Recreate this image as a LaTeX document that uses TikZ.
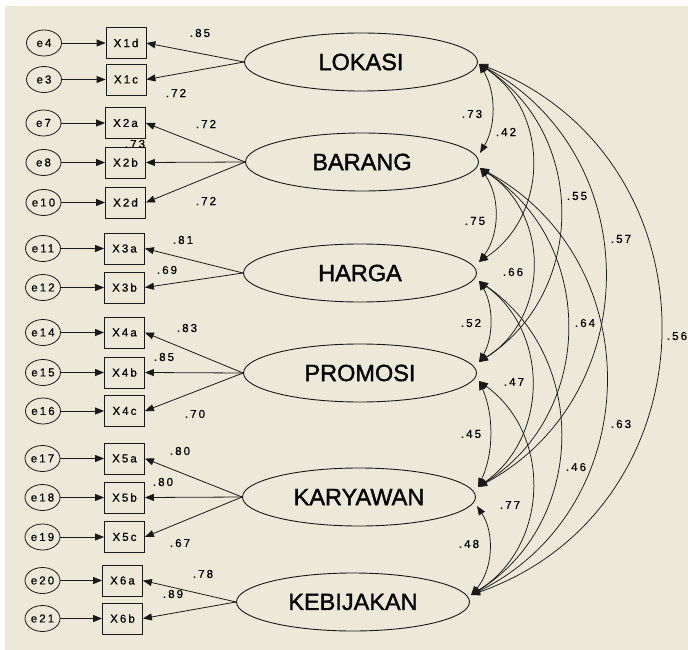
\documentclass[tikz,border=0pt]{standalone}
\usepackage{fontspec}
\setmainfont{Liberation Sans}
\newfontfamily\amos[LetterSpace=18,FakeBold=0.6]{Liberation Sans}
\newfontfamily\latfont[FakeBold=1.4]{Liberation Sans}
\usetikzlibrary{shapes.geometric,arrows.meta,calc}
\definecolor{bgc}{RGB}{236,233,216}
\definecolor{ln}{RGB}{25,25,25}
\tikzset{
  lat/.style={ellipse, draw=ln, line width=0.9pt, minimum width=233pt, minimum height=58pt, inner sep=0pt, font=\latfont\fontsize{23.5}{26}\selectfont},
  obs/.style={rectangle, draw=ln, line width=0.8pt, minimum width=40pt, minimum height=31pt, inner sep=0pt, font=\amos\fontsize{11.5}{12}\selectfont},
  err/.style={ellipse, draw=ln, line width=0.8pt, minimum width=35pt, minimum height=26pt, inner sep=0pt, font=\amos\fontsize{11.5}{12}\selectfont},
  load/.style={draw=ln, line width=0.8pt, -{Triangle[length=9pt,width=7pt]}},
  cov/.style={draw=ln, line width=0.75pt, {Triangle[length=9pt,width=7pt]}-{Triangle[length=9pt,width=7pt]}},
  lbl/.style={font=\amos\fontsize{11.5}{12}\selectfont, inner sep=0pt}
}
\newcommand\covarc[3]{%
  \draw[cov] let \p1=(#1), \p2=(#2),
    \n1={veclen(\x2-\x1,\y2-\y1)},
    \n2={atan2(\y2-\y1,\x2-\x1)},
    \n3={2*atan(2*#3/\n1)},
    \n4={\n1/(3*cos(\n3/2)^2)}
  in (#1) .. controls +(\n2+\n3:\n4) and +(\n2+180-\n3:\n4) .. (#2);
}
\begin{document}
\begin{tikzpicture}[x=1pt,y=-1pt]
\useasboundingbox (0,0) rectangle (688,650);
\fill[white] (0,0) rectangle (688,650);
\fill[bgc] (5,6) rectangle (688,650);

% latent variables
\node[lat] (LOK) at (361,62) {LOKASI};
\node[lat] (BAR) at (362,162) {BARANG};
\node[lat] (HAR) at (360,273) {HARGA};
\node[lat] (PRO) at (360,373) {PROMOSI};
\node[lat] (KAR) at (359,497) {KARYAWAN};
\node[lat] (KEB) at (353,602) {KEBIJAKAN};

% errors and indicators
\foreach \e/\o/\y/\gx/\bx in {
  e4/X1d/43/44/126, e3/X1c/79.5/44/126,
  e7/X2a/123/43.5/125.5, e8/X2b/162.5/43.5/125.5, e10/X2d/202.5/43.5/125.5,
  e11/X3a/248.5/43/124.5, e12/X3b/287.5/43/124.5,
  e14/X4a/332.5/43/124.5, e15/X4b/372.5/43/124.5, e16/X4c/411/43/124.5,
  e17/X5a/458.5/42.5/124.5, e18/X5b/497.5/42.5/124.5, e19/X5c/537/42.5/124.5,
  e20/X6a/580.5/42.5/122.5, e21/X6b/618.5/42.5/122.5}{
  \node[err] (\e) at (\gx,\y) {\e};
  \node[obs] (\o) at (\bx,\y) {\o};
  \draw[load] (\e) -- (\o);
}

% loadings
\foreach \o in {X1d,X1c} \draw[load] (LOK.west) -- (\o.east);
\foreach \o in {X2a,X2b,X2d} \draw[load] (BAR.west) -- (\o.east);
\foreach \o in {X3a,X3b} \draw[load] (HAR.west) -- (\o.east);
\foreach \o in {X4a,X4b,X4c} \draw[load] (PRO.west) -- (\o.east);
\foreach \o in {X5a,X5b,X5c} \draw[load] (KAR.west) -- (\o.east);
\foreach \o in {X6a,X6b} \draw[load] (KEB.west) -- (\o.east);

% loading labels
\node[lbl] (l1) at (200,33) {.85};
\node[lbl] (l2) at (176,93) {.72};
\node[lbl] (l3) at (206,124) {.72};
\node[lbl] (l4) at (135,144) {.73};
\node[lbl] (l5) at (206,201) {.72};
\node[lbl] (l6) at (183,240) {.81};
\node[lbl] (l7) at (167,270) {.69};
\node[lbl] (l8) at (187,328) {.83};
\node[lbl] (l9) at (164,357) {.85};
\node[lbl] (l10) at (195,414) {.70};
\node[lbl] (l11) at (180,451) {.80};
\node[lbl] (l12) at (163,482) {.80};
\node[lbl] (l13) at (180,543) {.67};
\node[lbl] (l14) at (203,574) {.78};
\node[lbl] (l15) at (173,594) {.89};

% covariance attach points
\coordinate (LKa) at (479,64);
\coordinate (BRt) at (480,153);
\coordinate (BRb) at (480,168);
\coordinate (HRt) at (479,262);
\coordinate (HRb) at (479,281);
\coordinate (PRt) at (479,362);
\coordinate (PRb) at (479,381);
\coordinate (KYt) at (478,487);
\coordinate (KYb) at (477,506);
\coordinate (KBa) at (471,595);

% covariances
\covarc{LKa}{BRt}{12.5}
\covarc{BRb}{HRt}{15.5}
\covarc{HRb}{PRt}{11}
\covarc{PRb}{KYt}{11.5}
\covarc{KYb}{KBa}{15}
\covarc{LKa}{HRt}{53}
\covarc{BRb}{PRt}{53}
\covarc{HRb}{KYt}{53}
\covarc{PRb}{KBa}{57}
\covarc{LKa}{PRt}{81}
\covarc{BRb}{KYt}{88}
\covarc{HRb}{KBa}{85}
\covarc{LKa}{KYt}{126}
\covarc{BRb}{KBa}{130}
\covarc{LKa}{KBa}{185}

% covariance labels
\node[lbl] (c1) at (472,114) {.73};
\node[lbl] (c2) at (506,132) {.42};
\node[lbl] (c3) at (577,196) {.55};
\node[lbl] (c4) at (621,239) {.57};
\node[lbl] (c5) at (677,336) {.56};
\node[lbl] (c6) at (475,221) {.75};
\node[lbl] (c7) at (513,272) {.66};
\node[lbl] (c8) at (585,323) {.64};
\node[lbl] (c9) at (621,424) {.63};
\node[lbl] (c10) at (471,323) {.52};
\node[lbl] (c11) at (514,382) {.47};
\node[lbl] (c12) at (576,467) {.46};
\node[lbl] (c13) at (471,434) {.45};
\node[lbl] (c14) at (510,505) {.77};
\node[lbl] (c15) at (469,544) {.48};
\end{tikzpicture}
\end{document}
